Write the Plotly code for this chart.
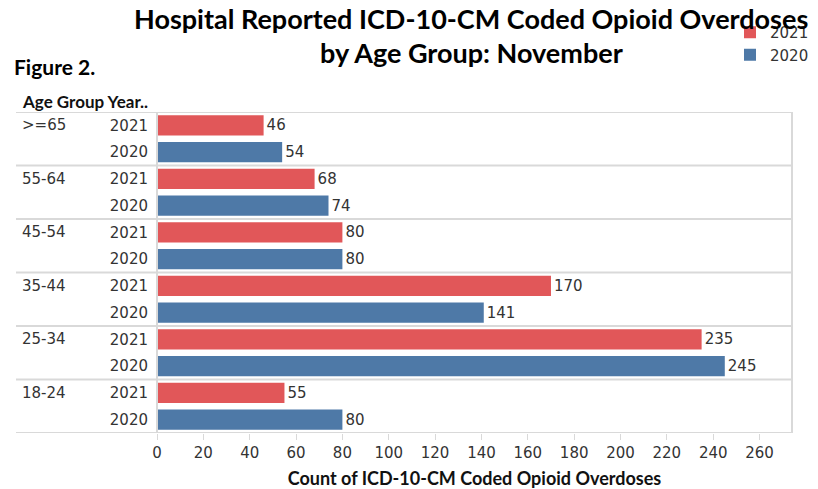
import plotly.graph_objects as go

age_groups = [">=65", "55-64", "45-54", "35-44", "25-34", "18-24"]
years = ["2021", "2020"]
values_2021 = [46, 68, 80, 170, 235, 55]
values_2020 = [54, 74, 80, 141, 245, 80]
x_ticks = [0, 20, 40, 60, 80, 100, 120, 140, 160, 180, 200, 220, 240, 260]

RED = "#E15759"
BLUE = "#4E79A7"
TXT = "#333333"
GRID = "#d9d9d9"
FONT = "DejaVu Sans"
BOLD = "Lato"

n = len(age_groups)
pos_2021 = [2 * i for i in range(n)]
pos_2020 = [2 * i + 1 for i in range(n)]

fig = go.Figure()
fig.add_trace(go.Bar(
    name="2021", x=values_2021, y=pos_2021, orientation="h",
    marker=dict(color=RED, line=dict(width=0)), width=0.75,
    text=[str(v) for v in values_2021], textposition="outside",
    textfont=dict(family=FONT, size=15, color=TXT), cliponaxis=False,
))
fig.add_trace(go.Bar(
    name="2020", x=values_2020, y=pos_2020, orientation="h",
    marker=dict(color=BLUE, line=dict(width=0)), width=0.75,
    text=[str(v) for v in values_2020], textposition="outside",
    textfont=dict(family=FONT, size=15, color=TXT), cliponaxis=False,
))

L, R, T, B = 157, 26, 112, 56
W, H = 818, 489
pw = W - L - R
left_px = 16
x0_paper = (left_px - L) / pw

shapes = []
for k in range(n + 1):
    yv = 2 * k - 0.5
    shapes.append(dict(type="line", xref="paper", yref="y", x0=x0_paper, x1=1,
                       y0=yv, y1=yv, line=dict(color=GRID, width=2), layer="below"))
shapes.append(dict(type="line", xref="paper", yref="paper", x0=1, x1=1, y0=0, y1=1,
                   line=dict(color=GRID, width=2)))
shapes.append(dict(type="line", xref="paper", yref="paper", x0=0, x1=0, y0=0, y1=1,
                   line=dict(color=GRID, width=2)))

annotations = []
for i, g in enumerate(age_groups):
    annotations.append(dict(text=g, xref="paper", yref="y", x=(20 - L) / pw, y=2 * i,
                            xanchor="left", yanchor="middle", showarrow=False,
                            font=dict(family=FONT, size=15, color=TXT)))
annotations.append(dict(text="<b>Age Group Year..</b>", xref="paper", yref="paper",
                        x=(20 - L) / pw, y=1, yshift=11, xanchor="left", yanchor="middle",
                        showarrow=False, font=dict(family=BOLD, size=17, color="#111")))
annotations.append(dict(text="<b>Hospital Reported ICD-10-CM Coded Opioid Overdoses</b>",
                        xref="paper", yref="paper", x=(471 - L) / pw, y=1,
                        yshift=(T - 18), xanchor="center", yanchor="middle", showarrow=False,
                        font=dict(family=BOLD, size=27, color="#000")))
annotations.append(dict(text="<b>by Age Group: November</b>",
                        xref="paper", yref="paper", x=(471 - L) / pw, y=1,
                        yshift=(T - 52), xanchor="center", yanchor="middle", showarrow=False,
                        font=dict(family=BOLD, size=27, color="#000")))
annotations.append(dict(text="<b>Figure 2.</b>", xref="paper", yref="paper",
                        x=(12 - L) / pw, y=1, yshift=(T - 66), xanchor="left", yanchor="middle",
                        showarrow=False, font=dict(family=BOLD, size=21, color="#000")))

fig.update_layout(
    width=W, height=H,
    margin=dict(l=L, r=R, t=T, b=B, autoexpand=False),
    paper_bgcolor="white", plot_bgcolor="white",
    barmode="overlay",
    shapes=shapes, annotations=annotations,
    showlegend=True,
    legend=dict(xref="container", yref="container", x=730 / W, y=1 - 16 / H,
                xanchor="left", yanchor="top",
                font=dict(family=FONT, size=15, color=TXT), bgcolor="rgba(0,0,0,0)",
                traceorder="normal", itemwidth=30, tracegroupgap=0),
    xaxis=dict(range=[0, 274], tickvals=x_ticks, showgrid=False, zeroline=False,
               showline=False, ticks="outside", ticklen=6, tickcolor=GRID,
               tickfont=dict(family=FONT, size=15, color=TXT),
               title=dict(text="<b>Count of ICD-10-CM Coded Opioid Overdoses</b>",
                          font=dict(family=BOLD, size=18, color="#111"), standoff=12)),
    yaxis=dict(range=[2 * n - 0.5, -0.5], tickvals=pos_2021 + pos_2020,
               ticktext=[years[0]] * n + [years[1]] * n,
               showgrid=False, zeroline=False, showline=False, ticks="",
               ticklabelstandoff=8,
               tickfont=dict(family=FONT, size=15, color=TXT)),
)

fig.write_html("out.html", config={"displayModeBar": False},
               post_script="document.body.style.margin='0';")
